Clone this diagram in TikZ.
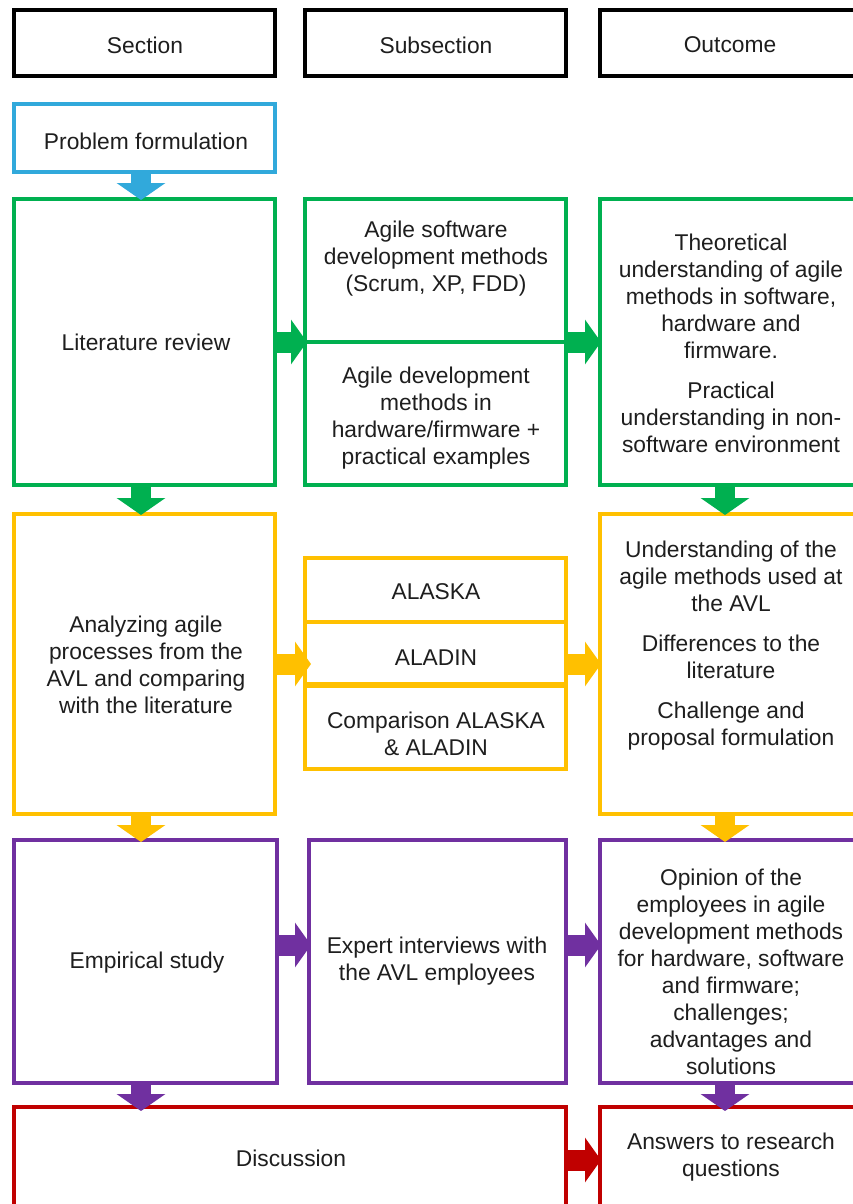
\documentclass[tikz,border=0pt]{standalone}
\usepackage{fontspec}
\setmainfont{Liberation Sans}
\usetikzlibrary{arrows.meta}
\definecolor{cblue}{HTML}{31A9DB}
\definecolor{cgreen}{HTML}{00B050}
\definecolor{cyellow}{HTML}{FFC000}
\definecolor{cpurple}{HTML}{7030A0}
\definecolor{cred}{HTML}{C00000}
\definecolor{txtc}{HTML}{1E1E1E}
\tikzset{
  bx/.style={draw=#1, line width=4pt, inner sep=0pt, outer sep=0pt},
  txt/.style={inner sep=0pt, align=center, font=\fontsize{22.8}{27}\selectfont, text=txtc},
  arrD/.style={draw=#1, line width=20pt, -{Triangle[width=48pt,length=17pt]}},
  arrR/.style={draw=#1, line width=21pt, -{Triangle[width=44pt,length=16pt]}},
}
\begin{document}
\begin{tikzpicture}[x=1pt,y=-1pt]
\useasboundingbox (0,0) rectangle (853,1204);
\clip (0,0) rectangle (853,1204);
\fill[white] (0,0) rectangle (853,1204);
% headers
\node[bx=black, minimum width=261pt, minimum height=66pt] (hs) at (144.5,43) {};
\node[bx=black, minimum width=261pt, minimum height=66pt] (hss) at (435.5,43) {};
\node[bx=black, minimum width=260pt, minimum height=66pt] (ho) at (730,43) {};
% blue
\node[bx=cblue, minimum width=261pt, minimum height=68pt] (prob) at (144.5,138) {};
% green
\node[bx=cgreen, minimum width=261pt, minimum height=286pt] (lit) at (144.5,342) {};
\node[bx=cgreen, minimum width=261pt, minimum height=143pt] (agsw) at (435.5,270.5) {};
\node[bx=cgreen, minimum width=261pt, minimum height=143pt] (aghw) at (435.5,413.5) {};
\node[bx=cgreen, minimum width=260pt, minimum height=286pt] (outg) at (730,342) {};
% yellow
\node[bx=cyellow, minimum width=261pt, minimum height=300pt] (anl) at (144.5,664) {};
\node[bx=cyellow, minimum width=261pt, minimum height=64pt] (alaska) at (435.5,590) {};
\node[bx=cyellow, minimum width=261pt, minimum height=62pt] (aladin) at (435.5,653) {};
\node[bx=cyellow, minimum width=261pt, minimum height=83pt] (comp) at (435.5,727.5) {};
\node[bx=cyellow, minimum width=260pt, minimum height=300pt] (outy) at (730,664) {};
% purple
\node[bx=cpurple, minimum width=263pt, minimum height=243pt] (emp) at (145.5,961.5) {};
\node[bx=cpurple, minimum width=257pt, minimum height=243pt] (exp) at (437.5,961.5) {};
\node[bx=cpurple, minimum width=260pt, minimum height=243pt] (outp) at (730,961.5) {};
% red
\node[bx=cred, minimum width=552pt, minimum height=123pt] (disc) at (290,1168.5) {};
\node[bx=cred, minimum width=260pt, minimum height=123pt] (outr) at (730,1168.5) {};
% down arrows
\draw[arrD=cblue] ([xshift=-3.5pt]prob.south) -- ([xshift=-3.5pt,yshift=-1pt]lit.north);
\draw[arrD=cgreen] ([xshift=-3.5pt]lit.south) -- ([xshift=-3.5pt,yshift=-1pt]anl.north);
\draw[arrD=cgreen] ([xshift=-5pt]outg.south) -- ([xshift=-5pt,yshift=-1pt]outy.north);
\draw[arrD=cyellow] ([xshift=-3.5pt]anl.south) -- ([xshift=-3.5pt,yshift=-2pt]anl.south |- emp.north);
\draw[arrD=cyellow] ([xshift=-5pt]outy.south) -- ([xshift=-5pt,yshift=-2pt]outp.north);
\draw[arrD=cpurple] ([xshift=-4.5pt]emp.south) -- ([xshift=-4.5pt,yshift=-4pt]emp.south |- disc.north);
\draw[arrD=cpurple] ([xshift=-5pt]outp.south) -- ([xshift=-5pt,yshift=-4pt]outr.north);
% right arrows
\draw[arrR=cgreen] (lit.east) -- ([xshift=2pt]lit.east -| agsw.west);
\draw[arrR=cgreen] (lit.east -| agsw.east) -- ([xshift=1pt]lit.east -| outg.west);
\draw[arrR=cyellow] (anl.east) -- ([xshift=6pt]anl.east -| aladin.west);
\draw[arrR=cyellow] (anl.east -| aladin.east) -- ([xshift=1pt]anl.east -| outy.west);
\draw[arrR=cpurple] ([yshift=16.5pt]emp.east) -- ([yshift=16.5pt,xshift=2pt]emp.east -| exp.west);
\draw[arrR=cpurple] ([yshift=16.5pt]emp.east -| exp.east) -- ([yshift=16.5pt,xshift=1pt]emp.east -| outp.west);
\draw[arrR=cred] ([yshift=8.5pt]disc.east) -- ([yshift=8.5pt,xshift=1pt]disc.east -| outr.west);
% texts
\node[txt] (ths) at (145,45) {Section};
\node[txt] (thss) at (436,45) {Subsection};
\node[txt] (tho) at (730,45) {Outcome};
\node[txt] (tprob) at (146,141) {Problem formulation};
\node[txt] (tlit) at (146,342) {Literature review};
\node[txt] (tagsw) at (436,259) {Agile software\\development methods\\(Scrum, XP, FDD)};
\node[txt] (taghw) at (436,418.5) {Agile development\\methods in\\hardware/firmware +\\practical examples};
\node[txt] (toutg) at (731,343) {Theoretical\\understanding of agile\\methods in software,\\hardware and\\firmware.\\[13pt]Practical\\understanding in non-\\software environment};
\node[txt] (tanl) at (146,665) {Analyzing agile\\processes from the\\AVL and comparing\\with the literature};
\node[txt] (talaska) at (436,592) {ALASKA};
\node[txt] (taladin) at (436,658) {ALADIN};
\node[txt] (tcomp) at (436,734) {Comparison ALASKA\\\& ALADIN};
\node[txt] (touty) at (731,646) {Understanding of the\\agile methods used at\\the AVL\\[13pt]Differences to the\\literature\\[13pt]Challenge and\\proposal formulation};
\node[txt] (temp) at (147,963) {Empirical study};
\node[txt] (texp) at (437,961) {Expert interviews with\\the AVL employees};
\node[txt] (toutp) at (731,971.5) {Opinion of the\\employees in agile\\development methods\\for hardware, software\\and firmware;\\challenges;\\advantages and\\solutions};
\node[txt] (tdisc) at (291,1158) {Discussion};
\node[txt] (toutr) at (731,1157) {Answers to research\\questions};
\end{tikzpicture}
\end{document}
